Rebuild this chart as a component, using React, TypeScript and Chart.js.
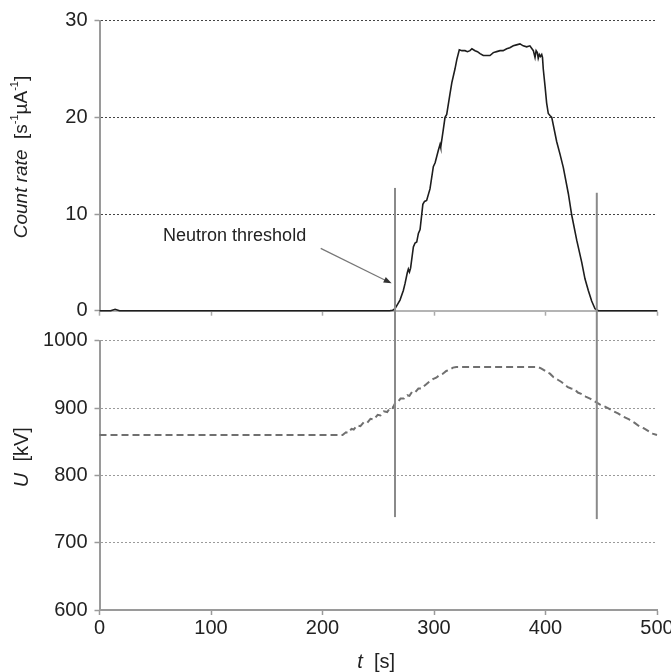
import React, { useEffect, useRef } from "react";
import { Chart, registerables } from "chart.js";
Chart.register(...registerables);

// ---- data ----
const countTime = [0, 10, 14, 18, 260, 263, 265, 266.5, 269.5, 272.5, 274, 276, 277, 278, 279, 281.5, 283, 284.5, 286, 287.5, 290, 291.5, 293.4, 296.4, 299.4, 301, 303.9, 305.4, 306, 308.3, 309.9, 311.4, 314.3, 316, 318.8, 320.5, 322.7, 325, 327.8, 330, 332.3, 334, 336.8, 339, 341.3, 344.2, 347.3, 350.2, 353.2, 356.2, 359.2, 362, 365.2, 368, 371.1, 374, 377.1, 380, 383.1, 386, 389.1, 390.6, 391.6, 392.7, 393.5, 394.5, 395.5, 396.6, 397.3, 398, 399.6, 401, 402.5, 404, 405.6, 410, 413, 416, 420.5, 423.5, 428, 432.5, 435.4, 438.4, 441.4, 444.4, 447.4, 500];
const countRate = [0, 0, 0.15, 0, 0, 0.05, 0.2, 0.5, 1.1, 2.1, 2.8, 3.9, 4.3, 4.0, 4.4, 6.6, 7.0, 7.1, 8.0, 8.4, 11.0, 11.3, 11.4, 12.6, 14.9, 15.3, 16.6, 17.2, 16.9, 18.7, 20.0, 20.3, 22.4, 23.6, 25.0, 26.0, 27.0, 26.9, 26.9, 26.8, 26.9, 27.1, 26.9, 26.8, 26.6, 26.4, 26.4, 26.4, 26.7, 26.8, 26.9, 26.9, 27.1, 27.2, 27.4, 27.5, 27.6, 27.4, 27.3, 27.4, 26.9, 26.2, 26.9, 26.7, 26.1, 26.5, 26.3, 26.5, 26.2, 25.0, 23.2, 21.5, 20.4, 20.2, 20.0, 17.5, 16.2, 14.8, 12.1, 9.9, 7.3, 5.0, 3.3, 2.1, 1.0, 0.2, 0, 0];

const voltTime = [0, 218, 221, 223, 226, 228, 231, 234, 237, 240, 243, 246, 249.5, 252, 255, 258, 261, 263, 265.6, 268, 270, 273, 276, 278, 280.3, 283, 286, 289, 292, 295.7, 299, 302, 305, 308, 311, 314, 317, 320, 393, 396, 399, 401.5, 404, 407, 411, 414, 417, 420, 423, 426, 429, 432, 436, 440, 443, 446, 449, 452, 456, 460, 465, 470, 475, 480, 484, 488, 492, 496, 500];
const voltage = [860, 860, 864, 863, 869, 868, 874, 873, 879, 878, 884, 883, 890, 889, 895, 894, 901, 900, 909, 910, 914, 914, 919, 918, 924, 923, 929, 929, 934, 939, 943, 945, 949, 951, 955, 957, 960, 961, 961, 959, 956, 953, 951, 946, 942, 939, 935, 931, 929, 928, 923, 921, 917, 914, 911, 908, 905, 903, 900, 896, 892, 887, 883, 878, 873, 870, 866, 862, 860];

const timeRange = [0, 500];
const countRange = [0, 30];
const voltRange = [600, 1000];
const thresholdTimes = [265, 446];
const thresholdTopCount = [12.7, 12.2];
const thresholdBottomU = [738, 735];
const annotationLabel = "Neutron threshold";
const annotationTextAt = [57, 7.2];
const arrowFrom = [198.4, 6.45];
const arrowTo = [262, 2.83];

const FONT = '"Liberation Sans", Arial, Helvetica, sans-serif';
const TEXT = "#222";
const AXIS = "#9a9a9a";

type Seg = { t: string; italic?: boolean; sup?: boolean };

function drawSegments(ctx: CanvasRenderingContext2D, segs: Seg[], size: number) {
  const fontFor = (s: Seg) => `${s.italic ? "italic " : ""}${s.sup ? Math.round(size * 0.6) : size}px ${FONT}`;
  let total = 0;
  segs.forEach((s) => { ctx.font = fontFor(s); total += ctx.measureText(s.t).width; });
  let x = -total / 2;
  ctx.textAlign = "left";
  ctx.textBaseline = "middle";
  ctx.fillStyle = TEXT;
  segs.forEach((s) => {
    ctx.font = fontFor(s);
    ctx.fillText(s.t, x, s.sup ? -size * 0.35 : 0);
    x += ctx.measureText(s.t).width;
  });
}

const topPlugin = {
  id: "topDecor",
  afterDatasetsDraw(chart: any) {
    const { ctx, scales } = chart;
    const x = scales.x, y = scales.y;
    ctx.save();
    ctx.strokeStyle = "#8a8a8a";
    ctx.lineWidth = 2;
    thresholdTimes.forEach((t, i) => {
      const px = x.getPixelForValue(t);
      ctx.beginPath();
      ctx.moveTo(px, y.getPixelForValue(thresholdTopCount[i]));
      ctx.lineTo(px, chart.height);
      ctx.stroke();
    });
    // arrow
    const x1 = x.getPixelForValue(arrowFrom[0]), y1 = y.getPixelForValue(arrowFrom[1]);
    const x2 = x.getPixelForValue(arrowTo[0]), y2 = y.getPixelForValue(arrowTo[1]);
    const ang = Math.atan2(y2 - y1, x2 - x1);
    ctx.strokeStyle = "#777";
    ctx.lineWidth = 1.2;
    ctx.beginPath();
    ctx.moveTo(x1, y1);
    ctx.lineTo(x2 - 6 * Math.cos(ang), y2 - 6 * Math.sin(ang));
    ctx.stroke();
    ctx.fillStyle = "#333";
    ctx.beginPath();
    ctx.moveTo(x2, y2);
    ctx.lineTo(x2 - 8 * Math.cos(ang) + 3 * Math.sin(ang), y2 - 8 * Math.sin(ang) - 3 * Math.cos(ang));
    ctx.lineTo(x2 - 8 * Math.cos(ang) - 3 * Math.sin(ang), y2 - 8 * Math.sin(ang) + 3 * Math.cos(ang));
    ctx.closePath();
    ctx.fill();
    // label
    ctx.font = `18px ${FONT}`;
    ctx.fillStyle = TEXT;
    ctx.textAlign = "left";
    ctx.textBaseline = "alphabetic";
    ctx.fillText(annotationLabel, x.getPixelForValue(annotationTextAt[0]), y.getPixelForValue(annotationTextAt[1]));
    // y title
    ctx.save();
    ctx.translate(22, y.getPixelForValue(15.9));
    ctx.rotate(-Math.PI / 2);
    drawSegments(ctx, [
      { t: "Count rate", italic: true },
      { t: "  [s" },
      { t: "-1", sup: true },
      { t: "\u00B5A" },
      { t: "-1", sup: true },
      { t: "]" },
    ], 19);
    ctx.restore();
    ctx.restore();
  },
};

const bottomPlugin = {
  id: "bottomDecor",
  afterDatasetsDraw(chart: any) {
    const { ctx, scales, chartArea } = chart;
    const x = scales.x, y = scales.y;
    ctx.save();
    ctx.strokeStyle = "#8a8a8a";
    ctx.lineWidth = 2;
    thresholdTimes.forEach((t, i) => {
      const px = x.getPixelForValue(t);
      ctx.beginPath();
      ctx.moveTo(px, 0);
      ctx.lineTo(px, y.getPixelForValue(thresholdBottomU[i]));
      ctx.stroke();
    });
    ctx.save();
    ctx.translate(22, y.getPixelForValue(827));
    ctx.rotate(-Math.PI / 2);
    drawSegments(ctx, [{ t: "U", italic: true }, { t: "  [kV]" }], 20);
    ctx.restore();
    ctx.save();
    ctx.translate((chartArea.left + chartArea.right) / 2 - 2, chart.height - 10);
    drawSegments(ctx, [{ t: "t", italic: true }, { t: "  [s]" }], 20);
    ctx.restore();
    ctx.restore();
  },
};

const tickFont = { family: FONT, size: 20 };
const plainLabel = (v: any) => String(v);

export default function App() {
  const topRef = useRef<HTMLCanvasElement>(null);
  const botRef = useRef<HTMLCanvasElement>(null);

  useEffect(() => {
    const top = new Chart(topRef.current!, {
      type: "line",
      data: {
        datasets: [{
          data: countTime.map((t, i) => ({ x: t, y: countRate[i] })),
          borderColor: "#1e1e1e",
          borderWidth: 1.6,
          pointRadius: 0,
          tension: 0,
          clip: 6,
        } as any],
      },
      options: {
        responsive: false,
        animation: false,
        devicePixelRatio: 1,
        layout: { padding: { left: 0, right: 14, top: 20.7, bottom: 0 } },
        plugins: { legend: { display: false }, tooltip: { enabled: false } },
        scales: {
          x: {
            type: "linear",
            min: timeRange[0],
            max: timeRange[1],
            ticks: { display: false, stepSize: 100 },
            grid: { display: true, drawOnChartArea: false, drawTicks: true, tickLength: 5, tickColor: "#aaa", tickWidth: 1.5 },
            border: { display: true, color: "#b4b4b4", width: 2 },
            afterFit: (s: any) => { s.height = 15.3; s.paddingLeft = 0; s.paddingRight = 0; },
          },
          y: {
            min: countRange[0],
            max: countRange[1],
            ticks: { stepSize: 10, font: tickFont, color: TEXT, padding: 7, callback: plainLabel },
            grid: {
              color: (c: any) => (c.tick && c.tick.value === 0 ? "rgba(0,0,0,0)" : "#444"),
              lineWidth: 1,
              tickLength: 5,
              tickColor: AXIS,
              tickWidth: 1.5,
            },
            border: { display: true, color: AXIS, width: 2, dash: [2, 2] },
            afterFit: (s: any) => { s.width = 99.5; s.paddingTop = 0; s.paddingBottom = 0; },
          },
        },
      } as any,
      plugins: [topPlugin],
    });

    const bottom = new Chart(botRef.current!, {
      type: "line",
      data: {
        datasets: [{
          data: voltTime.map((t, i) => ({ x: t, y: voltage[i] })),
          borderColor: "#707070",
          borderWidth: 2,
          borderDash: [7, 4],
          pointRadius: 0,
          tension: 0,
          clip: 6,
        } as any],
      },
      options: {
        responsive: false,
        animation: false,
        devicePixelRatio: 1,
        layout: { padding: { left: 0, right: 14, top: 14.7, bottom: 0 } },
        plugins: { legend: { display: false }, tooltip: { enabled: false } },
        scales: {
          x: {
            type: "linear",
            min: timeRange[0],
            max: timeRange[1],
            ticks: { stepSize: 100, font: tickFont, color: TEXT, padding: 1, maxRotation: 0, callback: plainLabel },
            grid: { display: true, drawOnChartArea: false, drawTicks: true, tickLength: 5, tickColor: AXIS, tickWidth: 1.5 },
            border: { display: true, color: AXIS, width: 2 },
            afterFit: (s: any) => { s.height = 62; s.paddingLeft = 0; s.paddingRight = 0; },
          },
          y: {
            min: voltRange[0],
            max: voltRange[1],
            ticks: { stepSize: 100, font: tickFont, color: TEXT, padding: 7, callback: plainLabel },
            grid: {
              color: (c: any) => (c.tick && c.tick.value === 600 ? "rgba(0,0,0,0)" : "#9a9a9a"),
              lineWidth: 1,
              tickLength: 5,
              tickColor: AXIS,
              tickWidth: 1.5,
            },
            border: { display: true, color: AXIS, width: 2, dash: [2, 2] },
            afterFit: (s: any) => { s.width = 99.5; s.paddingTop = 0; s.paddingBottom = 0; },
          },
        },
      } as any,
      plugins: [bottomPlugin],
    });

    return () => { top.destroy(); bottom.destroy(); };
  }, []);

  return (
    <div style={{ position: "absolute", left: 0, top: 0, width: 671, height: 672, background: "#fff", overflow: "hidden" }}>
      <canvas ref={topRef} width={671} height={326} style={{ display: "block" }} />
      <canvas ref={botRef} width={671} height={346} style={{ display: "block" }} />
    </div>
  );
}
